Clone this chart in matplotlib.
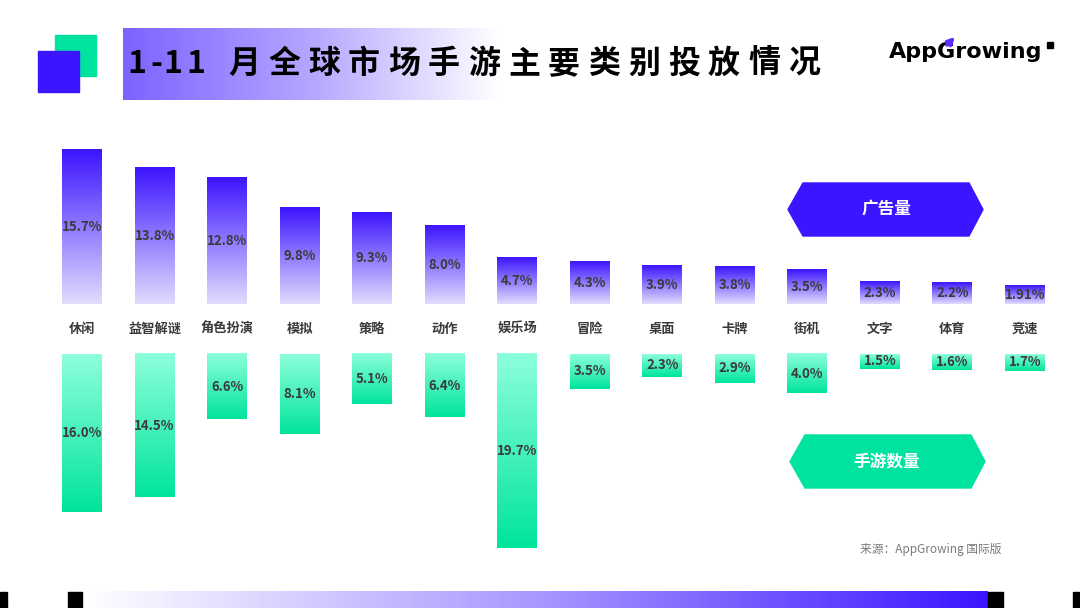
import numpy as np
import matplotlib.pyplot as plt
from matplotlib.colors import LinearSegmentedColormap
from matplotlib.patches import Polygon, Rectangle

plt.rcParams['font.family'] = ['Noto Sans CJK SC', 'DejaVu Sans']

categories = ["休闲", "益智解谜", "角色扮演", "模拟", "策略", "动作", "娱乐场",
              "冒险", "桌面", "卡牌", "街机", "文字", "体育", "竞速"]
ad_share = [15.7, 13.8, 12.8, 9.8, 9.3, 8.0, 4.7, 4.3, 3.9, 3.8, 3.5, 2.3, 2.2, 1.91]
ad_labels = ["15.7%", "13.8%", "12.8%", "9.8%", "9.3%", "8.0%", "4.7%", "4.3%",
             "3.9%", "3.8%", "3.5%", "2.3%", "2.2%", "1.91%"]
game_share = [16.0, 14.5, 6.6, 8.1, 5.1, 6.4, 19.7, 3.5, 2.3, 2.9, 4.0, 1.5, 1.6, 1.7]
game_labels = ["16.0%", "14.5%", "6.6%", "8.1%", "5.1%", "6.4%", "19.7%", "3.5%",
               "2.3%", "2.9%", "4.0%", "1.5%", "1.6%", "1.7%"]

title_digits = "1-11"
title_cn = "月全球市场手游主要类别投放情况"

purple = "#3d14ff"
green = "#00e49c"
cm_purple = LinearSegmentedColormap.from_list("p", ["#e2dcfd", purple])
cm_green = LinearSegmentedColormap.from_list("g", [green, "#8dffdc"])
cm_banner = LinearSegmentedColormap.from_list("b", ["#7c63ff", "#b5a6ff", "#ffffff"])
cm_foot = LinearSegmentedColormap.from_list("f", ["#ffffff", "#a898ff", purple])

fig = plt.figure(figsize=(10.8, 6.08), dpi=100)

# background / decoration layer in pixel coordinates
bg = fig.add_axes([0, 0, 1, 1])
bg.set_xlim(0, 1080)
bg.set_ylim(608, 0)
bg.axis("off")

grad = np.linspace(0, 1, 256).reshape(1, -1)
bg.imshow(grad, extent=(123, 500, 100, 28), cmap=cm_banner, aspect="auto")
bg.add_patch(Rectangle((55, 35), 41, 41, color="#00e39e"))
bg.add_patch(Rectangle((38, 51), 41, 41, color=purple))

for k, ch in enumerate(title_digits):
    bg.text([137, 156, 173, 196][k], 64, ch, fontsize=23, fontweight="bold",
            ha="center", va="center", color="black")
for k, ch in enumerate(title_cn):
    bg.text(244 + 40 * k, 64, ch, fontsize=23, fontweight="bold",
            ha="center", va="center", color="black")

# logo
bg.text(966, 52, "AppGrowing", fontsize=16, fontweight="bold", ha="center",
        va="center", color="black", family="DejaVu Sans")
bg.add_patch(Rectangle((1047, 42), 6, 6, color="black"))
bg.annotate("", xy=(957, 35), xytext=(945, 47),
            arrowprops=dict(arrowstyle="-|>", color="#5b2bff", lw=2.5, mutation_scale=10))

# legend tags
bg.add_patch(Polygon([(788, 209.5), (803, 183), (969, 183), (983, 209.5), (969, 236), (803, 236)],
                     color=purple))
bg.text(886, 209, "广告量", fontsize=12, fontweight="bold", color="white",
        ha="center", va="center")
bg.add_patch(Polygon([(790, 461.5), (805, 435), (971, 435), (985, 461.5), (971, 488), (805, 488)],
                     color="#00e3a0"))
bg.text(887, 461, "手游数量", fontsize=12, fontweight="bold", color="white",
        ha="center", va="center")

bg.text(860, 549, "来源：AppGrowing 国际版", fontsize=8.5, color="#7a7a7a",
        ha="left", va="center")

# footer
bg.imshow(grad, extent=(85, 988, 608, 591), cmap=cm_foot, aspect="auto")
for x0, w in [(0, 7), (68, 14), (988, 15), (1073, 7)]:
    bg.add_patch(Rectangle((x0, 592), w, 16, color="black"))

# data layer
px = 9.87           # pixels per percentage point
gap = 25 / px       # half gap for the category label row
ax = fig.add_axes([45.75 / 1080, 38 / 608, 1015.5 / 1080, 440 / 608])
ax.patch.set_alpha(0)
ax.axis("off")

w = 0.55
vert = np.linspace(0, 1, 256).reshape(-1, 1)
for i, cat in enumerate(categories):
    v = ad_share[i]
    ax.imshow(vert, extent=(i - w / 2, i + w / 2, gap, gap + v), origin="lower",
              cmap=cm_purple, aspect="auto")
    ax.text(i, gap + v / 2, ad_labels[i], fontsize=9.5, fontweight="bold",
            color="#3a3a3a", ha="center", va="center")

    g = game_share[i]
    ax.imshow(vert, extent=(i - w / 2, i + w / 2, -gap - g, -gap), origin="lower",
              cmap=cm_green, aspect="auto")
    ax.text(i, -gap - g / 2, game_labels[i], fontsize=9.5, fontweight="bold",
            color="#3a3a3a", ha="center", va="center")

    ax.text(i, 0, cat, fontsize=9.5, fontweight="bold", color="#3a3a3a",
            ha="center", va="center")

ax.set_xlim(-0.5, len(categories) - 0.5)
ax.set_ylim(-(570 - 329) / px, (329 - 130) / px)

fig.savefig("out.png", dpi=100)
